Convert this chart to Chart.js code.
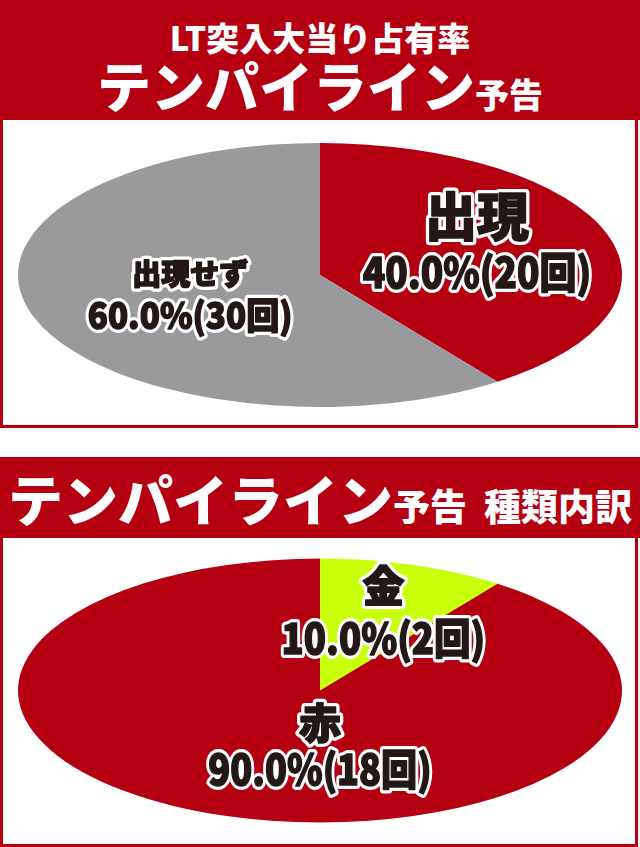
<!DOCTYPE html>
<html lang="ja">
<head>
<meta charset="utf-8">
<script src="https://cdn.jsdelivr.net/npm/chart.js@4"></script>
<style>
  body { margin: 0; background: #fff; }
  #page { position: relative; width: 640px; height: 847px; overflow: hidden;
          font-family: "Noto Sans CJK JP", sans-serif; }
  .head { position: absolute; left: 0; width: 640px; background: #b50012; color: #fff;
          text-align: center; font-weight: 900; white-space: nowrap; }
  .box { position: absolute; left: 0; width: 632px; border: 3px solid #b50012; background: #fff; }
  canvas { position: absolute; left: 4px; }
</style>
</head>
<body>
<div id="page">
  <div class="box" style="top:114px;height:308px;"></div>
  <div class="head" style="top:0;height:120px;">
    <div style="font-size:33px;line-height:36px;padding-top:19px;">LT突入大当り占有率</div>
    <div style="line-height:60px;"><span style="font-size:54px;">テンパイライン</span><span style="font-size:34px;">予告</span></div>
  </div>
  <div class="box" style="top:532px;height:309px;"></div>
  <div class="head" style="top:457px;height:81px;">
    <div style="line-height:80px;"><span style="font-size:55px;">テンパイライン</span><span style="font-size:37px;">予告&nbsp;&nbsp;種類内訳</span></div>
  </div>
  <canvas id="c1" width="632" height="305" style="top:120px;"></canvas>
  <canvas id="c2" width="632" height="305" style="top:538px;"></canvas>
</div>
<script>
// ---------------------------------------------------------------
//  Data
// ---------------------------------------------------------------
const LT_LABELS  = ["出現", "出現せず"];
const LT_COUNTS  = [20, 30];
const LT_COLORS  = ["#b50012", "#9a9a9c"];

const KIND_LABELS = ["金", "赤"];
const KIND_COUNTS = [2, 18];
const KIND_COLORS = ["#c8ff0a", "#b50012"];

// ---------------------------------------------------------------
//  Plugins: squash the pie into an ellipse, outlined labels
// ---------------------------------------------------------------
const ellipsePlugin = {
  id: "ellipse",
  beforeDatasetsDraw(chart, args, opts) {
    const arc = chart.getDatasetMeta(0).data[0];
    const { ctx } = chart;
    ctx.save();
    ctx.translate(arc.x, arc.y);
    ctx.scale(opts.rx / arc.outerRadius, opts.ry / arc.outerRadius);
    ctx.translate(-arc.x, -arc.y);
  },
  afterDatasetsDraw(chart) {
    chart.ctx.restore();
  },
};

// black text with a white outline, optionally squeezed horizontally
function outlined(ctx, text, x, y, size, sx) {
  ctx.save();
  ctx.translate(x, y);
  ctx.scale(sx, 1);
  ctx.font = `900 ${size}px "Noto Sans CJK JP", sans-serif`;
  ctx.lineWidth = 8;
  ctx.strokeStyle = "#fff";
  ctx.strokeText(text, 0, 0);
  ctx.lineWidth = 1.5;           // a touch heavier than plain bold
  ctx.strokeStyle = "#231815";
  ctx.strokeText(text, 0, 0);
  ctx.fillStyle = "#231815";
  ctx.fillText(text, 0, 0);
  ctx.restore();
}

const labelPlugin = {
  id: "sliceLabels",
  afterDraw(chart, args, opts) {
    const { ctx } = chart;
    const ds = chart.data.datasets[0];
    const total = ds.data.reduce((a, b) => a + b, 0);
    const ell = chart.options.plugins.ellipse;
    ctx.save();
    ctx.textAlign = "center";
    ctx.textBaseline = "middle";
    ctx.lineJoin = "round";
    chart.getDatasetMeta(0).data.forEach((arc, i) => {
      const s = opts.slices[i];
      const x = arc.x + s.fx * ell.rx;
      const y = arc.y + s.fy * ell.ry;
      const pct = (ds.data[i] / total * 100).toFixed(1);
      outlined(ctx, chart.data.labels[i], x, y - s.gap, s.nameSize, 1);
      outlined(ctx, `${pct}%(${ds.data[i]}回)`, x, y + s.gap, s.valSize, s.squeeze);
    });
    ctx.restore();
  },
};

function makePie(id, labels, counts, colors, padTop, slices) {
  new Chart(document.getElementById(id), {
    type: "pie",
    data: {
      labels,
      datasets: [{ data: counts, backgroundColor: colors, borderWidth: 0 }],
    },
    options: {
      responsive: false,
      animation: false,
      layout: { padding: { top: padTop } },
      plugins: {
        legend: { display: false },
        tooltip: { enabled: false },
        ellipse: { rx: 302, ry: 132 },
        sliceLabels: { slices },
      },
    },
    plugins: [ellipsePlugin, labelPlugin],
  });
}

makePie("c1", LT_LABELS, LT_COUNTS, LT_COLORS, 5, [
  { fx: 0.52, fy: -0.235, gap: 28, nameSize: 52, valSize: 42, squeeze: 0.88 },
  { fx: -0.43, fy: 0.15, gap: 21, nameSize: 29, valSize: 36, squeeze: 0.92 },
]);

makePie("c2", KIND_LABELS, KIND_COUNTS, KIND_COLORS, 0, [
  { fx: 0.21, fy: -0.595, gap: 26, nameSize: 42, valSize: 42, squeeze: 0.87 },
  { fx: 0.0, fy: 0.42, gap: 23, nameSize: 42, valSize: 42, squeeze: 0.86 },
]);
</script>
</body>
</html>
